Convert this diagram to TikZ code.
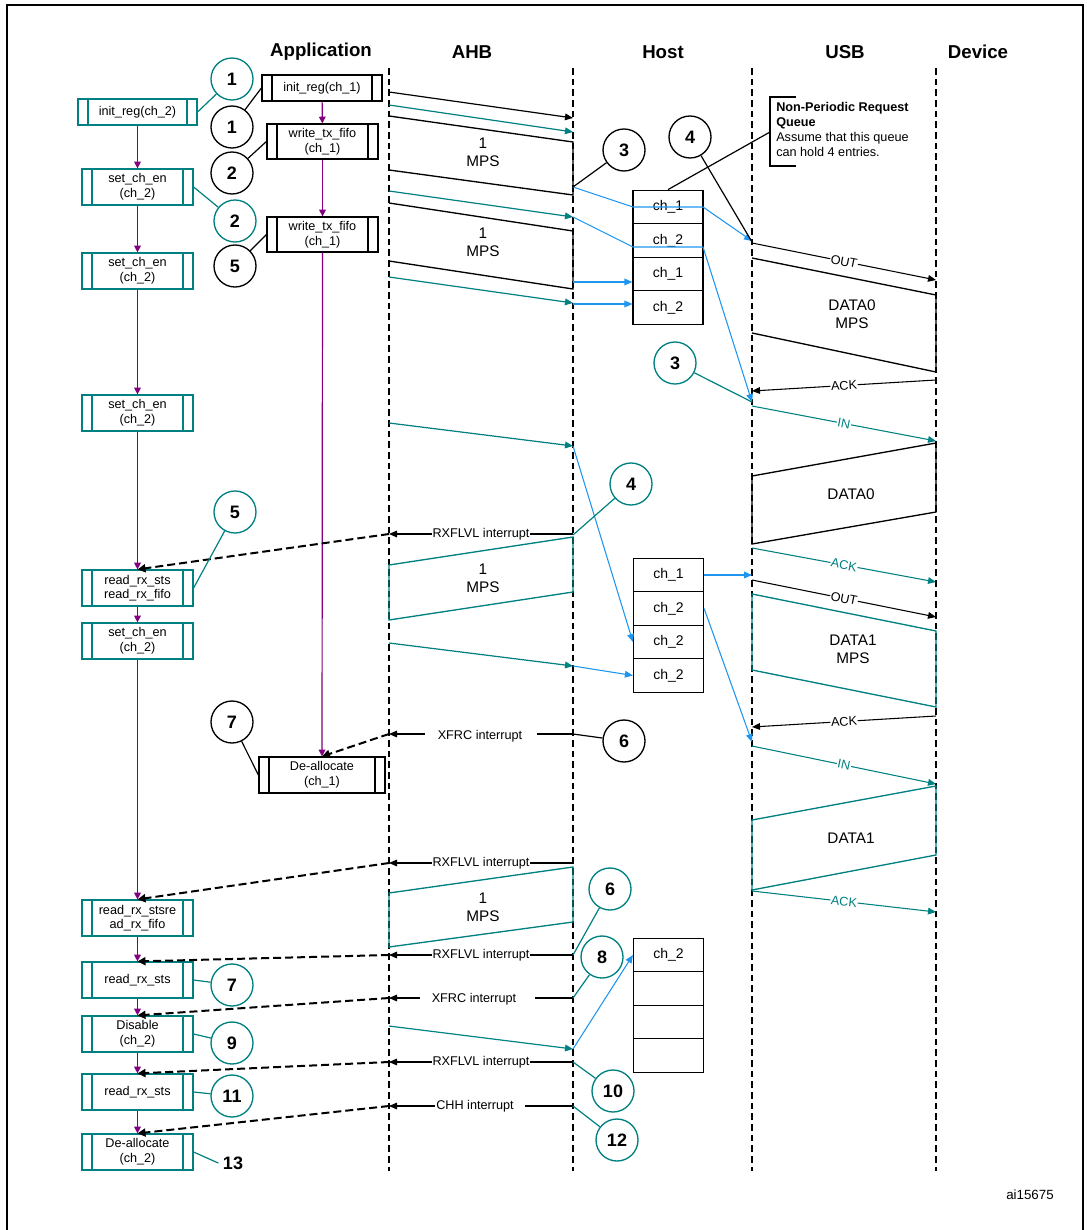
\documentclass[tikz,border=0pt]{standalone}
\usepackage{fontspec}
\setmainfont{Liberation Sans}
\usetikzlibrary{arrows.meta}
\definecolor{tl}{RGB}{0,128,128}
\definecolor{bl}{RGB}{30,150,240}
\definecolor{pu}{RGB}{128,0,128}
\begin{document}
\begin{tikzpicture}[x=0.75pt,y=-0.75pt,
  tip/.style={-{Triangle[length=6pt,width=5pt]}},
  lane/.style={line width=1.2pt,dash pattern=on 5pt off 3pt},
  pbox/.style={draw=#1,line width=0.9pt,rectangle,align=center,inner sep=0pt,font=\fontsize{9.5}{11}\selectfont,
    path picture={\draw[#1,line width=0.9pt] ([xshift=7.5pt]path picture bounding box.north west) -- ([xshift=7.5pt]path picture bounding box.south west);
      \draw[#1,line width=0.9pt] ([xshift=-7.5pt]path picture bounding box.north east) -- ([xshift=-7.5pt]path picture bounding box.south east);}},
  tb/.style={pbox=tl,minimum width=83.25pt,minimum height=27pt},
  bb/.style={pbox=black,minimum width=83.25pt,minimum height=26.25pt},
  circ/.style={circle,draw=#1,line width=1pt,minimum size=31.5pt,inner sep=0pt,font=\fontsize{13.5}{14}\selectfont\bfseries},
  hdr/.style={font=\fontsize{14}{16}\selectfont\bfseries},
  lbl/.style={font=\fontsize{9.5}{11}\selectfont,fill=white,inner sep=0.5pt},
  slbl/.style={font=\fontsize{9.5}{11}\selectfont,fill=white,inner sep=0.5pt,sloped},
  txt/.style={font=\fontsize{11.5}{13.5}\selectfont,align=center},
  qb/.style={draw,line width=0.9pt,minimum width=52.5pt,minimum height=25.2pt,inner sep=0pt,font=\fontsize{10.5}{12}\selectfont},
  pa/.style={pu,line width=0.9pt,-{Triangle[length=5pt,width=5pt]}},
  da/.style={line width=1.5pt,dash pattern=on 6pt off 3pt,-{Triangle[length=6pt,width=6pt]}},
  cl/.style={line width=0.9pt}
]
\useasboundingbox (0,0) rectangle (1087,1230);
\draw[line width=1.2pt] (7,1232)--(7,5)--(1083,5)--(1083,1232);
% headers
\node[hdr] (hApp) at (321,52) {Application};
\node[hdr] (hAHB) at (472,52) {AHB};
\node[hdr] (hHost) at (663,52) {Host};
\node[hdr] (hUSB) at (845,52) {USB};
\node[hdr] (hDev) at (978,52) {Device};
\foreach \x in {389,573,752,936} \draw[lane] (\x,68) -- (\x,1171);
% left column boxes
\node[tb,minimum width=89.25pt,minimum height=19.5pt] (L1) at (137.5,112) {init\_reg(ch\_2)};
\node[tb] (L2) at (137.5,187) {set\_ch\_en\\(ch\_2)};
\node[tb] (L3) at (137.5,271) {set\_ch\_en\\(ch\_2)};
\node[tb] (L4) at (137.5,413) {set\_ch\_en\\(ch\_2)};
\node[tb] (L5) at (137.5,588) {read\_rx\_sts\\read\_rx\_fifo};
\node[tb] (L6) at (137.5,641) {set\_ch\_en\\(ch\_2)};
\node[tb] (L7) at (137.5,918) {read\_rx\_stsre\\ad\_rx\_fifo};
\node[tb] (L8) at (137.5,980) {read\_rx\_sts};
\node[tb] (L9) at (137.5,1034) {Disable\\(ch\_2)};
\node[tb] (L10) at (137.5,1092) {read\_rx\_sts};
\node[tb] (L11) at (137.5,1152) {De-allocate\\(ch\_2)};
\foreach \a/\b in {L1/L2,L2/L3,L3/L4,L4/L5,L5/L6,L6/L7,L7/L8,L8/L9,L9/L10,L10/L11} \draw[pa] (\a) -- (\b);
% black boxes
\node[bb,minimum width=90pt,minimum height=19.5pt] (B1) at (322,88) {init\_reg(ch\_1)};
\node[bb] (B2) at (322.5,141.5) {write\_tx\_fifo\\(ch\_1)};
\node[bb] (B3) at (322.5,234.5) {write\_tx\_fifo\\(ch\_1)};
\node[bb,minimum width=94.5pt,minimum height=27pt] (B4) at (322,775) {De-allocate\\(ch\_1)};
\foreach \a/\b in {B1/B2,B2/B3,B3/B4} \draw[pa] (\a) -- (\b);
% circles
\node[circ=tl] (c1) at (232,79) {1};
\node[circ=black] (k1) at (232,127) {1};
\node[circ=black] (k2) at (232,173) {2};
\node[circ=tl] (c2) at (235,221) {2};
\node[circ=black] (k5) at (235,266) {5};
\node[circ=black] (k3) at (624,150) {3};
\node[circ=black] (k4) at (690,137) {4};
\node[circ=tl] (t3) at (675,363) {3};
\node[circ=tl] (t4) at (631,484) {4};
\node[circ=tl] (t5) at (235,512) {5};
\node[circ=black] (k6) at (624,741) {6};
\node[circ=black] (k7) at (232,722) {7};
\node[circ=tl] (t6) at (610,889) {6};
\node[circ=tl] (t7) at (232,985) {7};
\node[circ=tl] (t8) at (602,957) {8};
\node[circ=tl] (t9) at (232,1043) {9};
\node[circ=tl] (t10) at (613,1091) {10};
\node[circ=tl] (t11) at (232,1096) {11};
\node[circ=tl] (t12) at (617,1140) {12};
\node[font=\fontsize{13.5}{14}\selectfont\bfseries] (n13) at (233,1163) {13};
% queues
\node[qb] (q11) at (668,207) {ch\_1};
\node[qb] (q12) at (668,240.5) {ch\_2};
\node[qb] (q13) at (668,274) {ch\_1};
\node[qb] (q14) at (668,307.5) {ch\_2};
\node[qb] (q21) at (668.5,575) {ch\_1};
\node[qb] (q22) at (668.5,608.5) {ch\_2};
\node[qb] (q23) at (668.5,642) {ch\_2};
\node[qb] (q24) at (668.5,675.5) {ch\_2};
\node[qb] (q31) at (668.5,955) {ch\_2};
\node[qb] (q32) at (668.5,988.5) {};
\node[qb] (q33) at (668.5,1022) {};
\node[qb] (q34) at (668.5,1055.5) {};
% note
\draw[cl] (796,97)--(770,97)--(770,166)--(796,166);
\node[anchor=north west,align=left,font=\fontsize{9.5}{11.3}\selectfont,inner sep=0pt] (note) at (776,102)
  {\textbf{Non-Periodic Request}\\\textbf{Queue}\\Assume that this queue\\can hold 4 entries.};
\coordinate (nq) at (770,132);
\draw[cl] (nq) -- (q11.north);
% AHB arrows
\draw[tip,line width=0.9pt] (389,92) -- (573,118);
\foreach \a/\b in {105/132,191/217,277/303,423/446,643/666,1026/1049} \draw[tip,tl,line width=0.9pt] (389,\a) -- (573,\b);
% MPS blocks
\draw[line width=1pt] (389,116)--(573,142)--(573,195)--(389,170);
\node[txt] at (483,152) {1\\MPS};
\draw[line width=1pt] (389,203)--(573,231)--(573,289)--(389,261);
\node[txt] at (483,242) {1\\MPS};
\draw[tl,line width=1pt] (389,565)--(573,537)--(573,592)--(389,620)--cycle;
\node[txt] at (483,578) {1\\MPS};
\draw[tl,line width=1pt] (389,893)--(573,867)--(573,922)--(389,947)--cycle;
\node[txt] at (483,907) {1\\MPS};
% USB data blocks
\draw[line width=1pt] (752,258)--(936,295)--(936,372)--(752,333);
\node[txt] at (852,314) {DATA0\\MPS};
\draw[line width=1pt] (752,476)--(936,443)--(936,512)--(752,544)--cycle;
\node[txt] at (851,494) {DATA0};
\draw[tl,line width=1pt] (752,594)--(936,631)--(936,707)--(752,670)--cycle;
\node[txt] at (853,649) {DATA1\\MPS};
\draw[tl,line width=1pt] (752,820)--(936,786)--(936,855)--(752,890)--cycle;
\node[txt] at (851,838) {DATA1};
% blue
\coordinate (h1) at (573,187);
\coordinate (h2) at (573,217);
\draw[bl,line width=0.8pt,tip] (h1) -- (633,207) -- (703,207) -- (752,241);
\draw[bl,line width=0.8pt,tip] (h2) -- (633,247) -- (703,247) -- (752,402);
\draw[bl,line width=0.9pt,tip] (573,282) -- (q13.west|-0,282);
\draw[bl,line width=0.9pt,tip] (573,304) -- (q14.west|-0,304);
\draw[bl,line width=0.8pt,tip] (573,446) -- (q23.west);
\draw[bl,line width=0.8pt,tip] (573,666) -- (q24.west);
\draw[bl,line width=0.9pt,tip] (q21.east) -- (752,575);
\draw[bl,line width=0.8pt,tip] (q22.east) -- (752,742);
\draw[bl,line width=0.8pt,tip] (573,1049) -- (q31.west);
% USB arrows
\draw[tip,line width=0.8pt] (752,243) -- node[slbl]{OUT} (936,280);
\draw[tip,line width=0.8pt] (936,380) -- node[slbl]{ACK} (752,391);
\draw[tip,tl,line width=0.8pt] (752,406) -- node[slbl]{IN} (936,441);
\draw[tip,tl,line width=0.8pt] (752,548) -- node[slbl]{ACK} (936,582);
\draw[tip,line width=0.8pt] (752,580) -- node[slbl]{OUT} (936,617);
\draw[tip,line width=0.8pt] (936,716) -- node[slbl]{ACK} (752,727);
\draw[tip,tl,line width=0.8pt] (752,746) -- node[slbl]{IN} (936,784);
\draw[tip,tl,line width=0.8pt] (752,891) -- node[slbl]{ACK} (936,912);
% interrupts
\draw[tip,line width=0.8pt] (573,534) -- node[lbl]{RXFLVL interrupt} (389,534);
\draw[da] (389,534) -- (L5.north);
\draw[line width=0.8pt] (573,734) -- (537,734);
\node[font=\fontsize{9.5}{11}\selectfont] (x1) at (480,736) {XFRC interrupt};
\draw[tip,line width=0.8pt] (425,734) -- (389,734);
\draw[da] (389,734) -- (B4.north);
\draw[tip,line width=0.8pt] (573,863) -- node[lbl]{RXFLVL interrupt} (389,863);
\draw[da] (389,863) -- (L7.north);
\draw[tip,line width=0.8pt] (573,955) -- node[lbl]{RXFLVL interrupt} (389,955);
\draw[da] (389,955) -- (L8.north);
\draw[line width=0.8pt] (573,998) -- (535,998);
\node[font=\fontsize{9.5}{11}\selectfont] (x2) at (474,999) {XFRC interrupt};
\draw[tip,line width=0.8pt] (420,998) -- (389,998);
\draw[da] (389,998) -- (L9.north);
\draw[tip,line width=0.8pt] (573,1062) -- node[lbl]{RXFLVL interrupt} (389,1062);
\draw[da] (389,1062) -- (L10.north);
\draw[line width=0.8pt] (573,1106) -- (525,1106);
\node[font=\fontsize{9.5}{11}\selectfont] (x3) at (475,1106) {CHH interrupt};
\draw[tip,line width=0.8pt] (435,1106) -- (389,1106);
\draw[da] (389,1106) -- (L11.north);
% callouts
\draw[tl,cl] (c1) -- (L1.east);
\draw[cl] (k1) -- (B1.west);
\draw[cl] (k2) -- (B2.west);
\draw[tl,cl] (c2) -- (L2.east);
\draw[cl] (k5) -- (B3.west);
\draw[cl] (k3) -- (h1);
\draw[cl] (k4) -- (752,242);
\draw[tl,cl] (t3) -- (752,402);
\draw[tl,cl] (t4) -- (573,535);
\draw[tl,cl] (t5) -- (L5.east);
\draw[cl] (k6) -- (573,734);
\draw[cl] (k7) -- (B4.west);
\draw[tl,cl] (t6) -- (573,955);
\draw[tl,cl] (t7) -- (L8.east);
\draw[tl,cl] (t8) -- (573,998);
\draw[tl,cl] (t9) -- (L9.east);
\draw[tl,cl] (t10) -- (573,1062);
\draw[tl,cl] (t11) -- (L10.east);
\draw[tl,cl] (t12) -- (573,1106);
\draw[tl,cl] (L11.east) -- (n13.west);
\node[font=\fontsize{10}{11}\selectfont] (id) at (1030,1195) {ai15675};
\end{tikzpicture}
\end{document}
